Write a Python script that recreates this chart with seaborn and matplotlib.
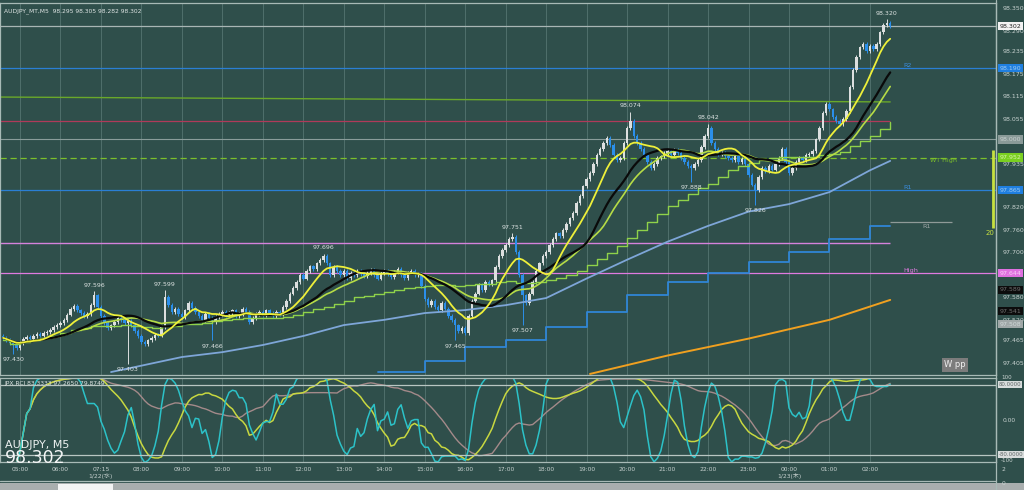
import numpy as np
import pandas as pd
import matplotlib
matplotlib.use("Agg")
import matplotlib.pyplot as plt
import seaborn as sns
from matplotlib.patches import Rectangle
from matplotlib.lines import Line2D

BG = "#2f4f4b"
GRID = "#4f6f6b"
TXT = "#c8d2d0"

# ---------------- data ----------------
first_open = 97.478
closes = [
    97.472, 97.466, 97.458, 97.452, 97.446,
    97.458, 97.468, 97.474, 97.470,
    97.476, 97.482, 97.478, 97.485, 97.488,
    97.492, 97.500, 97.506, 97.512,
    97.520, 97.534, 97.548, 97.556, 97.545,
    97.538, 97.530, 97.535,
    97.560, 97.585, 97.555,
    97.530, 97.512, 97.498, 97.505,
    97.515, 97.525, 97.520, 97.512, 97.518,
    97.505, 97.490, 97.476, 97.462, 97.455, 97.465,
    97.472, 97.480, 97.478,
    97.500, 97.580, 97.560, 97.540, 97.548,
    97.535, 97.528,
    97.545, 97.565, 97.552, 97.540,
    97.530, 97.520, 97.535, 97.525, 97.515,
    97.528, 97.535, 97.540, 97.532, 97.538, 97.545, 97.530, 97.536,
    97.548, 97.540, 97.515, 97.525,
    97.535, 97.540, 97.532, 97.545, 97.538, 97.530, 97.542, 97.536,
    97.555, 97.570, 97.590, 97.605,
    97.620, 97.640, 97.630,
    97.650, 97.662, 97.655, 97.670, 97.680,
    97.690, 97.670, 97.640, 97.660, 97.650,
    97.640, 97.650, 97.632, 97.645, 97.638, 97.650, 97.642,
    97.636, 97.645, 97.652, 97.640, 97.630, 97.645,
    97.650, 97.642, 97.635, 97.648, 97.655, 97.640, 97.632, 97.646, 97.650, 97.638, 97.642,
    97.610, 97.575, 97.560, 97.570,
    97.555, 97.545, 97.565, 97.550, 97.530,
    97.520, 97.505, 97.490, 97.498, 97.485,
    97.530, 97.570,
    97.590, 97.612, 97.600, 97.620, 97.615, 97.625,
    97.660, 97.690, 97.705, 97.720,
    97.735, 97.740, 97.700,
    97.640, 97.585, 97.565,
    97.590, 97.620, 97.650, 97.670, 97.690,
    97.700, 97.720, 97.735, 97.750, 97.742, 97.760, 97.775, 97.790,
    97.805, 97.830, 97.850, 97.875, 97.895, 97.910,
    97.935, 97.960, 97.975, 97.990, 98.005, 97.985,
    97.960, 97.945, 97.950,
    97.990, 98.030, 98.050, 98.010,
    97.990, 97.975, 97.960, 97.940, 97.925, 97.935, 97.950,
    97.955, 97.965, 97.970, 97.960, 97.972, 97.965,
    97.950, 97.940, 97.930, 97.925, 97.935, 97.945,
    97.980, 98.010, 98.030, 97.990,
    97.975, 97.960, 97.965, 97.955,
    97.950, 97.945, 97.955, 97.940, 97.948, 97.935,
    97.905, 97.880, 97.865,
    97.900, 97.925, 97.915, 97.930, 97.920, 97.935,
    97.950, 97.975, 97.940, 97.910, 97.925,
    97.940, 97.950, 97.945, 97.958, 97.962, 97.970,
    98.000, 98.030, 98.070, 98.095,
    98.080, 98.060, 98.050,
    98.040, 98.055, 98.075,
    98.140, 98.185,
    98.220, 98.245, 98.255,
    98.235, 98.248, 98.240, 98.255,
    98.285, 98.305, 98.310, 98.302,
]
wick = 0.005
marked_highs = {27: 97.596, 48: 97.599, 95: 97.696, 151: 97.751, 186: 98.074, 209: 98.042, 262: 98.320}
marked_lows = {3: 97.430, 37: 97.403, 62: 97.466, 134: 97.465, 154: 97.507, 204: 97.888, 223: 97.826}

hour_labels = ["05:00", "06:00", "07:15", "08:00", "09:00", "10:00", "11:00", "12:00", "13:00",
               "14:00", "15:00", "16:00", "17:00", "18:00", "19:00", "20:00", "21:00", "22:00",
               "23:00", "00:00", "01:00", "02:00"]
hour_bar = [5, 17, 29, 41, 53, 65, 77, 89, 101, 113, 125, 137, 149, 161, 173, 185, 197, 209, 221, 233, 245, 257]

long_ma_bar = [32, 41, 53, 65, 77, 89, 101, 113, 125, 137, 149, 161, 173, 185, 197, 209, 221, 233, 245, 257, 263]
long_ma_val = [97.381, 97.398, 97.421, 97.434, 97.453, 97.477, 97.506, 97.520, 97.538, 97.546, 97.559,
               97.578, 97.630, 97.680, 97.728, 97.770, 97.808, 97.828, 97.860, 97.918, 97.943]
h1_ma_bar = [111, 125, 137, 149, 161, 173, 185, 197, 209, 221, 233, 245, 257, 263]
h1_ma_val = [97.381, 97.410, 97.448, 97.466, 97.500, 97.540, 97.586, 97.621, 97.645, 97.674, 97.700,
             97.735, 97.770, 97.770]
slow_ma_bar = [174, 197, 221, 245, 263]
slow_ma_val = [97.376, 97.425, 97.470, 97.520, 97.573]

weekly_bar = [-1, 263]
weekly_val = [98.113, 98.100]

price_ticks = [98.350, 98.290, 98.235, 98.175, 98.115, 98.055, 97.935, 97.820,
               97.760, 97.700, 97.580, 97.520, 97.465, 97.405]

# ---------------- derived series ----------------
n = len(closes)
idx = np.arange(n)
c = np.array(closes)
o = np.concatenate([[first_open], c[:-1]])
hi = np.maximum(o, c) + wick
lo = np.minimum(o, c) - wick
for k, v in marked_highs.items():
    hi[k] = v
for k, v in marked_lows.items():
    lo[k] = v

s = pd.Series(c)
ma_fast = s.rolling(10, min_periods=1).mean()
ma_mid = s.rolling(21, min_periods=1).mean()
ma_slow = s.rolling(26, min_periods=1).mean()
# 15-minute MA shown as steps
grp = (idx + 1) // 3
m15_close = s.groupby(grp).last()
m15_ma = m15_close.rolling(20, min_periods=1).mean()
ma_m15 = m15_ma.loc[grp].values


def rci(vals, period):
    out = np.full(len(vals), np.nan)
    for t in range(len(vals)):
        m = min(period, t + 1)
        if m < 3:
            continue
        w = pd.Series(vals[t - m + 1:t + 1])
        pr = w.rank(ascending=False).values
        tr = np.arange(m, 0, -1)
        d = ((tr - pr) ** 2).sum()
        out[t] = (1 - 6 * d / (m * (m * m - 1))) * 100
    return out


rci9 = rci(c, 9)
rci26 = rci(c, 26)
rci52 = rci(c, 52)

# ---------------- figure ----------------
sns.set_theme(style="dark", rc={"axes.facecolor": BG, "figure.facecolor": BG})
plt.rcParams["font.family"] = ["DejaVu Sans", "Noto Sans CJK JP"]

W, H = 1024, 490
fig = plt.figure(figsize=(W / 100, H / 100), dpi=100)
fig.patch.set_facecolor(BG)


def px(x0, y0, x1, y1):
    return [x0 / W, 1 - y1 / H, (x1 - x0) / W, (y1 - y0) / H]


ax = fig.add_axes(px(0, 3, 996, 375))
ax2 = fig.add_axes(px(0, 378, 996, 462))

XPB = 3.373
XL = (-3.1 / XPB, (996 - 3.1) / XPB)
YPP = 375.7
ax.set_xlim(*XL)
ax.set_ylim(98.35 - 367 / YPP, 98.35 + 5 / YPP)

for a in (ax, ax2):
    a.set_facecolor(BG)
    a.set_xticks(hour_bar)
    a.grid(axis="x", color=GRID, lw=0.7)
    a.grid(axis="y", visible=False)
    for sp in a.spines.values():
        sp.set_color("#a8bab6")
        sp.set_linewidth(0.9)

# candles
up = c >= o
col = np.where(up, "#dcdfdf", "#2b8fea")
ax.vlines(idx, lo, hi, colors=col, lw=0.7, zorder=3)
body_h = np.maximum(np.abs(c - o), 0.0018)
ax.bar(idx, body_h, bottom=np.minimum(o, c), width=0.72, color=col, lw=0, zorder=3)

# moving averages
sns.lineplot(x=idx, y=ma_m15, ax=ax, color="#8fd24a", lw=1.0, drawstyle="steps-post", zorder=4)
sns.lineplot(x=long_ma_bar, y=long_ma_val, ax=ax, color="#7ea6d8", lw=1.3, zorder=4)
sns.lineplot(x=h1_ma_bar, y=h1_ma_val, ax=ax, color="#2f86d6", lw=1.3, drawstyle="steps-post", zorder=4)
sns.lineplot(x=slow_ma_bar, y=slow_ma_val, ax=ax, color="#f0a020", lw=1.4, zorder=4)
sns.lineplot(x=idx, y=ma_slow, ax=ax, color="#b6dc46", lw=1.2, zorder=5)
sns.lineplot(x=idx, y=ma_mid, ax=ax, color="#0a0a0a", lw=1.6, zorder=5)
sns.lineplot(x=idx, y=ma_fast, ax=ax, color="#eef03a", lw=1.3, zorder=6)

# horizontal levels
xend = (890 - 3.1) / XPB
ax.axhline(98.302, color="#a9b6b4", lw=0.9, zorder=2)
ax.axhline(98.190, color="#2a7fd4", lw=0.9, zorder=2)
sns.lineplot(x=weekly_bar, y=weekly_val, ax=ax, color="#6aa82a", lw=1.0, zorder=2)
ax.hlines(98.050, XL[0], xend, color="#b03a5a", lw=0.9, zorder=2)
ax.axhline(98.000, color="#8a9c9a", lw=0.8, zorder=2)
ax.axhline(97.952, color="#7cc02a", lw=0.9, ls=(0, (5, 3)), zorder=2)
ax.axhline(97.865, color="#2a7fd4", lw=0.9, zorder=2)
ax.hlines(97.780, xend, (952 - 3.1) / XPB, color="#8f9a98", lw=0.9, zorder=2)
ax.hlines(97.725, XL[0], xend, color="#d682dc", lw=1.0, zorder=2)
ax.axhline(97.644, color="#e07ae0", lw=0.9, zorder=2)

lvl_txt = [((903 - 3.1) / XPB, 98.196, "R2", "#3a8ee0"),
           ((930 - 3.1) / XPB, 97.943, "WT High", "#7cc02a"),
           ((903 - 3.1) / XPB, 97.872, "R1", "#3a8ee0"),
           ((922 - 3.1) / XPB, 97.768, "R1", "#a0a8a8"),
           ((903 - 3.1) / XPB, 97.651, "High", "#e07ae0")]
for xx, yy, t, cc in lvl_txt:
    ax.text(xx, yy, t, color=cc, fontsize=4.6, va="center", ha="left", zorder=7)

# high/low labels
for k, v in marked_highs.items():
    ax.text(k, v + 0.009, f"{v:.3f}", color="#dde3e2", fontsize=4.5, ha="center", va="bottom", zorder=7)
for k, v in marked_lows.items():
    ax.text(k, v - 0.009, f"{v:.3f}", color="#dde3e2", fontsize=4.5, ha="center", va="top", zorder=7)

# right price axis
ax.yaxis.tick_right()
ax.set_yticks(price_ticks)
ax.set_yticklabels([f"{p:.3f}" for p in price_ticks])
ax.tick_params(axis="y", length=0, pad=5, labelsize=4.5, labelcolor=TXT)
ax.tick_params(axis="x", length=0, labelbottom=False)
ax.set_xlabel("")
ax.set_ylabel("")

boxes = [(98.302, "98.302", "#f2f2f2", "#222222"),
         (98.190, "98.190", "#1f7fe0", "#9fcaf0"),
         (98.000, "98.000", "#8a9a98", "#c8d0cf"),
         (97.952, "97.952", "#7ad020", "#d8f0b0"),
         (97.865, "97.865", "#1f7fe0", "#9fcaf0"),
         (97.644, "97.644", "#e070e0", "#f8d0f8"),
         (97.600, "97.589", "#0c0c0c", "#707070"),
         (97.543, "97.541", "#0c0c0c", "#707070"),
         (97.508, "97.508", "#a0a8a8", "#d0d8d8")]
for yy, t, fc, tc in boxes:
    ax.annotate(t, xy=(1.004, yy), xycoords=("axes fraction", "data"), fontsize=4.5, color=tc,
                va="center", ha="left", annotation_clip=False, zorder=8,
                bbox=dict(boxstyle="square,pad=0.25", fc=fc, ec="none"))

# yellow range bar + "20"
range_bar = (97.764, 97.972)
ax.vlines((993 - 3.1) / XPB, range_bar[0], range_bar[1], color="#c8e040", lw=2.0, zorder=7, clip_on=False)
ax.text((990 - 3.1) / XPB, range_bar[0] - 0.004, "20", color="#c8e040", fontsize=5, ha="center", va="top")

ax.text((955 - 3.1) / XPB, 97.400, "W pp", color="#f0f0f0", fontsize=6, ha="center", va="center",
        bbox=dict(boxstyle="square,pad=0.3", fc="#7c7c7c", ec="none"), zorder=8)

ax.text(0.004, 0.985, "AUDJPY_MT,M5  98.295 98.305 98.282 98.302", transform=ax.transAxes,
        color="#dfe5e4", fontsize=4.3, va="top", ha="left")

# ---------------- RCI panel ----------------
ax2.set_xlim(*XL)
ax2.set_ylim(-97, 95)
sns.lineplot(x=idx, y=rci52, ax=ax2, color="#a48a8a", lw=1.0)
sns.lineplot(x=idx, y=rci26, ax=ax2, color="#c8d840", lw=1.1)
sns.lineplot(x=idx, y=rci9, ax=ax2, color="#2cc2c8", lw=1.1)
ax2.axhline(80, color="#b8c6c2", lw=0.9)
ax2.axhline(-80, color="#b8c6c2", lw=0.9)
ax2.set_xticklabels(hour_labels)
ax2.tick_params(axis="x", length=0, pad=3.5, labelsize=4.3, labelcolor=TXT)
ax2.yaxis.tick_right()
ax2.set_yticks([0])
ax2.set_yticklabels(["0.00"])
ax2.tick_params(axis="y", length=0, pad=5, labelsize=4.3, labelcolor=TXT)
ax2.set_xlabel("")
ax2.set_ylabel("")
for yy, t in [(80, "80.0000"), (-80, "-80.0000")]:
    ax2.annotate(t, xy=(1.003, yy), xycoords=("axes fraction", "data"), fontsize=3.9, color="#606868",
                 va="center", ha="left", annotation_clip=False,
                 bbox=dict(boxstyle="square,pad=0.15", fc="#d8dcdc", ec="none"))
ax2.text(0.004, 0.97, "JPX RCI 83.3333 97.2650 79.8749", transform=ax2.transAxes,
         color="#dfe5e4", fontsize=4.3, va="top", ha="left")
fig.text(1001 / W, 1 - 377.5 / H, "100", color=TXT, fontsize=4.1, ha="left", va="center")
fig.text(1001 / W, 1 - 460.5 / H, "-100", color=TXT, fontsize=4.1, ha="left", va="center")

# labels over the lower-left
fig.text(5 / W, 1 - 445 / H, "AUDJPY, M5", color="#eef2f1", fontsize=8, va="center", ha="left")
fig.text(5 / W, 1 - 457.5 / H, "98.302", color="#f4f6f6", fontsize=12.5, va="center", ha="left")

# date labels and bottom scale marks
fig.text((3.1 + XPB * 29) / W, 1 - 476 / H, "1/22(水)", color=TXT, fontsize=4.3, ha="center", va="center")
fig.text((3.1 + XPB * 233) / W, 1 - 476 / H, "1/23(木)", color=TXT, fontsize=4.3, ha="center", va="center")
fig.text(1002 / W, 1 - 469 / H, "2", color=TXT, fontsize=4.3, ha="left", va="center")
fig.text(1002 / W, 1 - 483 / H, "0", color=TXT, fontsize=4.3, ha="left", va="center")

# frame details
fig.add_artist(Line2D([996 / W, 996 / W], [0, 1], color="#a8bab6", lw=0.9))
fig.add_artist(Line2D([0, 996 / W], [1 - 481 / H, 1 - 481 / H], color="#a8bab6", lw=0.9))
fig.add_artist(Rectangle((0, 0), 1, 7 / H, transform=fig.transFigure, color="#a9aeae", lw=0))
fig.add_artist(Rectangle((58 / W, 0), 55 / W, 6 / H, transform=fig.transFigure, color="#f4f4f4", lw=0))

fig.savefig("out.png", dpi=100, facecolor=BG)
